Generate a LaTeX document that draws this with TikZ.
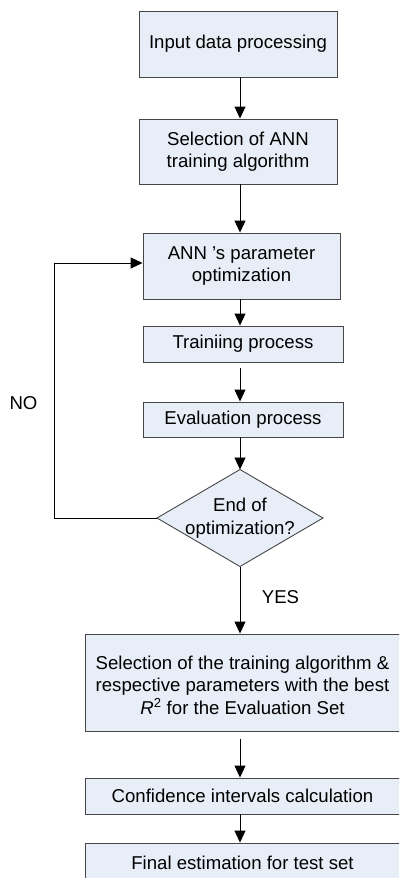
\documentclass[tikz,border=0pt]{standalone}
\usepackage{fontspec}
\setmainfont{Liberation Sans}
\usetikzlibrary{shapes.geometric,arrows.meta}
\definecolor{boxfill}{RGB}{232,238,248}
\definecolor{boxline}{RGB}{70,70,70}
\begin{document}
\begin{tikzpicture}[x=1pt,y=-1pt,
  every node/.style={font=\fontsize{18.6}{22.5}\selectfont},
  procbox/.style={draw=boxline,fill=boxfill,line width=0.9pt,rectangle,inner sep=0pt,align=center},
  decbox/.style={draw=boxline,fill=boxfill,line width=0.9pt,diamond,inner sep=0pt,outer sep=0pt},
  flow/.style={draw=black,line width=0.9pt,-{Triangle[length=12pt,width=11pt]}},
  lbl/.style={inner sep=0pt,align=center}]
\useasboundingbox (0,0) rectangle (399,878);
\clip (0,0) rectangle (399,878);
\node[procbox,minimum width=198pt,minimum height=66pt] (b1) at (238,44) {Input data processing};
\node[procbox,minimum width=198pt,minimum height=65pt] (b2) at (238,151.5) {Selection of ANN\\training algorithm};
\node[procbox,minimum width=197pt,minimum height=66pt] (b3) at (241.5,266) {ANN 's parameter\\optimization};
\node[procbox,minimum width=200pt,minimum height=36pt] (b4) at (243,344) {Trainiing process};
\node[procbox,minimum width=200pt,minimum height=35pt] (b5) at (243,419.5) {Evaluation process};
\node[decbox,minimum width=166pt,minimum height=97pt] (d) at (240,518) {};
\node[lbl] (dt) at (d.center) {End of\\optimization?};
\node[procbox,minimum width=315pt,minimum height=97pt] (b6) at (242.5,682.5) {};
\node[lbl] (b6t) at (242.5,685) {Selection of the training algorithm \&\\respective parameters with the best\\\textit{R}\textsuperscript{2} for the Evaluation Set};
\node[procbox,minimum width=315pt,minimum height=36pt] (b7) at (242.5,796) {Confidence intervals calculation};
\node[procbox,minimum width=315pt,minimum height=40pt] (b8) at (242.5,863) {Final estimation for test set};
\node[lbl] (no) at (23.5,403) {NO};
\node[lbl] (yes) at (280.5,597) {YES};
\coordinate (ax) at (240,0);
\coordinate (lp) at (54,263);
\draw[flow] (b1.south -| ax) -- (b2.north -| ax);
\draw[flow] (b2.south -| ax) -- (b3.north -| ax);
\draw[flow] (b3.south -| ax) -- (b4.north -| ax);
\draw[flow,shorten <=6pt] (b4.south -| ax) -- (b5.north -| ax);
\draw[flow] (b5.south -| ax) -- (d.north);
\draw[flow] (d.south) -- (b6.north -| d.south);
\draw[flow,shorten <=8pt] (b6.south -| ax) -- (b7.north -| ax);
\draw[flow] (b7.south -| ax) -- (b8.north -| ax);
\draw[flow] (d.west) -| (lp) -- (lp -| b3.west);
\end{tikzpicture}
\end{document}
